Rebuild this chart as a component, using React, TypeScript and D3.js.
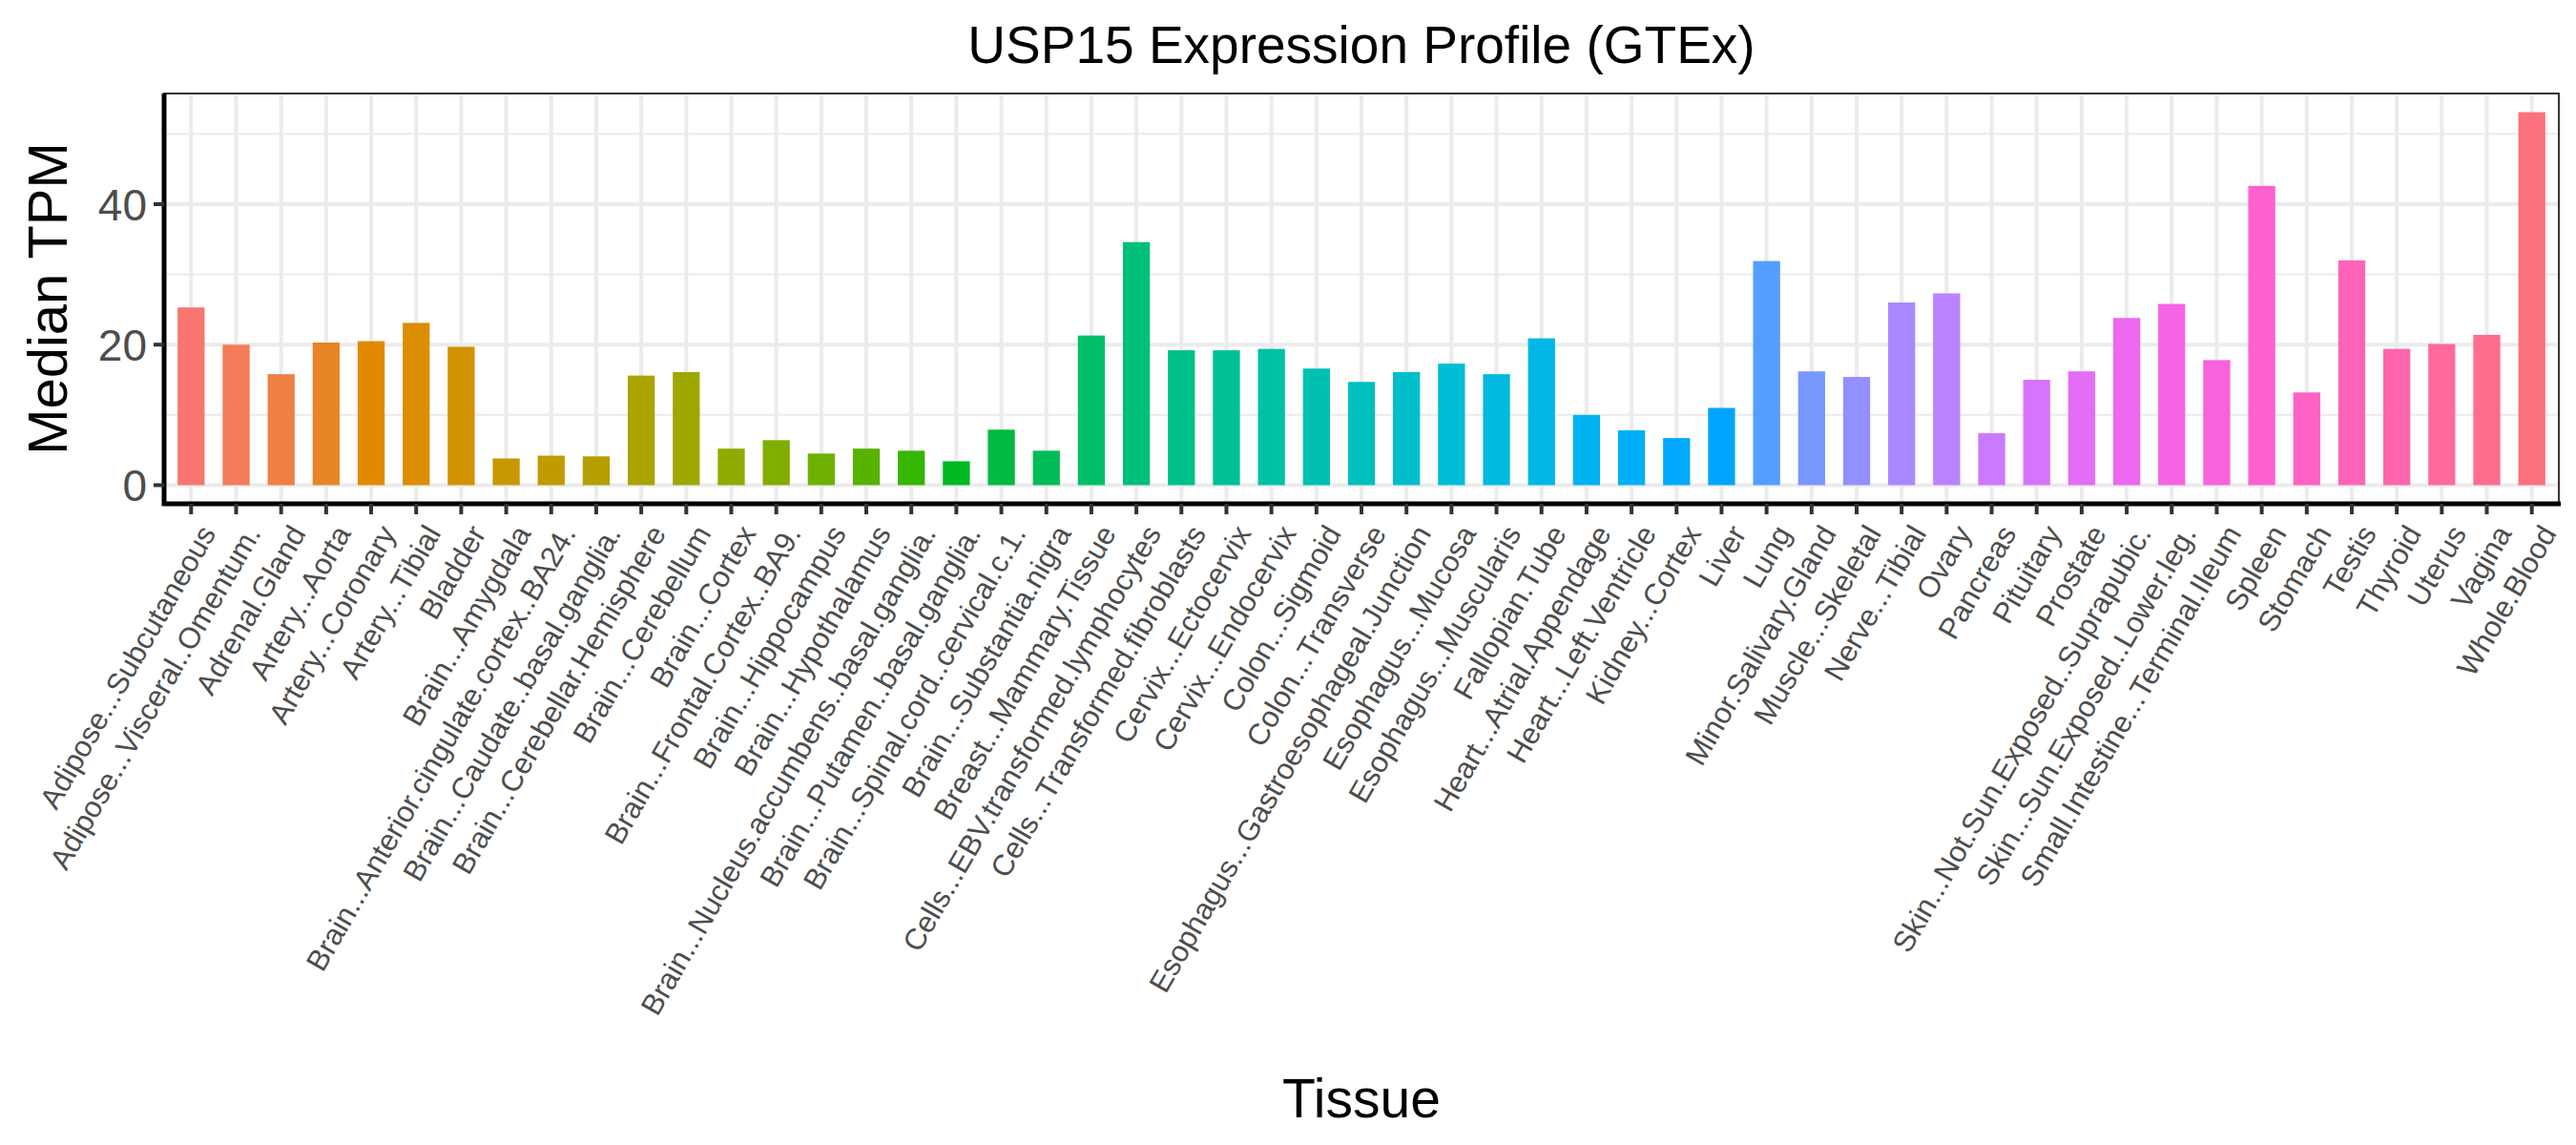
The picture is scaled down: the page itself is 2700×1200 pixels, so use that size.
import React from "react";
import * as d3 from "d3";

const tissues = ["Adipose...Subcutaneous","Adipose...Visceral..Omentum.","Adrenal.Gland","Artery...Aorta","Artery...Coronary","Artery...Tibial","Bladder","Brain...Amygdala","Brain...Anterior.cingulate.cortex..BA24.","Brain...Caudate..basal.ganglia.","Brain...Cerebellar.Hemisphere","Brain...Cerebellum","Brain...Cortex","Brain...Frontal.Cortex..BA9.","Brain...Hippocampus","Brain...Hypothalamus","Brain...Nucleus.accumbens..basal.ganglia.","Brain...Putamen..basal.ganglia.","Brain...Spinal.cord..cervical.c.1.","Brain...Substantia.nigra","Breast...Mammary.Tissue","Cells...EBV.transformed.lymphocytes","Cells...Transformed.fibroblasts","Cervix...Ectocervix","Cervix...Endocervix","Colon...Sigmoid","Colon...Transverse","Esophagus...Gastroesophageal.Junction","Esophagus...Mucosa","Esophagus...Muscularis","Fallopian.Tube","Heart...Atrial.Appendage","Heart...Left.Ventricle","Kidney...Cortex","Liver","Lung","Minor.Salivary.Gland","Muscle...Skeletal","Nerve...Tibial","Ovary","Pancreas","Pituitary","Prostate","Skin...Not.Sun.Exposed..Suprapubic.","Skin...Sun.Exposed..Lower.leg.","Small.Intestine...Terminal.Ileum","Spleen","Stomach","Testis","Thyroid","Uterus","Vagina","Whole.Blood"];
const tpm = [25.3,20,15.8,20.3,20.5,23.1,19.7,3.8,4.2,4.1,15.6,16.1,5.2,6.4,4.5,5.2,4.9,3.4,7.9,4.9,21.3,34.6,19.2,19.2,19.4,16.6,14.7,16.1,17.3,15.8,20.9,10,7.8,6.7,11,31.9,16.2,15.4,26,27.3,7.4,15,16.2,23.8,25.8,17.8,42.6,13.2,32,19.4,20.1,21.4,53.1];
const yTicks = [0, 20, 40];
const yMinor = [10, 30, 50];

function hclLuv(h: number, c: number, l: number): string {
  const hr = (h * Math.PI) / 180;
  const u = c * Math.cos(hr), v = c * Math.sin(hr);
  const Xn = 95.047, Yn = 100, Zn = 108.883;
  const un = (4 * Xn) / (Xn + 15 * Yn + 3 * Zn), vn = (9 * Yn) / (Xn + 15 * Yn + 3 * Zn);
  const Y = l > 8 ? Yn * Math.pow((l + 16) / 116, 3) : Yn * l / 903.3;
  const up = u / (13 * l) + un, vp = v / (13 * l) + vn;
  const X = (9 * Y * up) / (4 * vp);
  const Z = ((12 - 3 * up - 20 * vp) * Y) / (4 * vp);
  const x = X / 100, y = Y / 100, z = Z / 100;
  let r = 3.2406 * x - 1.5372 * y - 0.4986 * z;
  let g = -0.9689 * x + 1.8758 * y + 0.0415 * z;
  let b = 0.0557 * x - 0.204 * y + 1.057 * z;
  const gam = (t: number) => {
    const s = t <= 0.0031308 ? 12.92 * t : 1.055 * Math.pow(t, 1 / 2.4) - 0.055;
    return Math.round(Math.max(0, Math.min(1, s)) * 255);
  };
  return `rgb(${gam(r)},${gam(g)},${gam(b)})`;
}

const n = tissues.length;
const colors = tissues.map((_, i) => hclLuv(15 + (360 / n) * i, 100, 65));

export default function App() {
  const W = 2700, H = 1200;
  const L = 164, R = 2674, T = 90, B = 520;
  const step = (R - L) / (n + 0.2);
  const cx = (i: number) => L + step * (0.6 + i);
  const y = d3.scaleLinear().domain([-53.1 * 0.05, 53.1 * 1.05]).range([B, T]);
  const font = "'Liberation Sans', Arial, sans-serif";
  return (
    <svg width={W} height={H} style={{ display: "block", fontFamily: font }}>
      <rect width={W} height={H} fill="white" />
      {yMinor.map(v => <line key={"m" + v} x1={L} x2={R} y1={y(v)} y2={y(v)} stroke="#EBEBEB" strokeWidth={2} />)}
      {yTicks.map(v => <line key={"M" + v} x1={L} x2={R} y1={y(v)} y2={y(v)} stroke="#EBEBEB" strokeWidth={4} />)}
      {tissues.map((t, i) => <line key={"v" + t} x1={cx(i)} x2={cx(i)} y1={T} y2={B} stroke="#EBEBEB" strokeWidth={4} />)}
      {tissues.map((t, i) => (
        <rect key={t} x={cx(i) - step * 0.3} width={step * 0.6} y={y(tpm[i])} height={y(0) - y(tpm[i])} fill={colors[i]} />
      ))}
      <rect x={L} y={T} width={R - L} height={B - T} fill="none" stroke="#333" strokeWidth={2} />
      <line x1={L} x2={L} y1={T} y2={B + 2} stroke="black" strokeWidth={5} />
      <line x1={L - 2} x2={R + 2} y1={B} y2={B} stroke="black" strokeWidth={5} />
      {yTicks.map(v => (
        <g key={"t" + v}>
          <line x1={L - 11} x2={L} y1={y(v)} y2={y(v)} stroke="#333" strokeWidth={4} />
          <text x={L - 18} y={y(v)} dy="0.36em" textAnchor="end" fontSize={46} fill="#4D4D4D">{v}</text>
        </g>
      ))}
      {tissues.map((t, i) => (
        <g key={"x" + t}>
          <line x1={cx(i)} x2={cx(i)} y1={B} y2={B + 11} stroke="#333" strokeWidth={4} />
          <text transform={`translate(${cx(i) + 8},${B + 20}) rotate(-60)`} textAnchor="end" dy="0.7em" fontSize={31} fill="#4D4D4D">{t}</text>
        </g>
      ))}
      <text x={(L + R) / 2} y={58} textAnchor="middle" fontSize={55} fill="black">USP15 Expression Profile (GTEx)</text>
      <text transform={`translate(62,${(T + B) / 2}) rotate(-90)`} textAnchor="middle" fontSize={58} fill="black">Median TPM</text>
      <text x={(L + R) / 2} y={1163} textAnchor="middle" fontSize={57} fill="black">Tissue</text>
    </svg>
  );
}
